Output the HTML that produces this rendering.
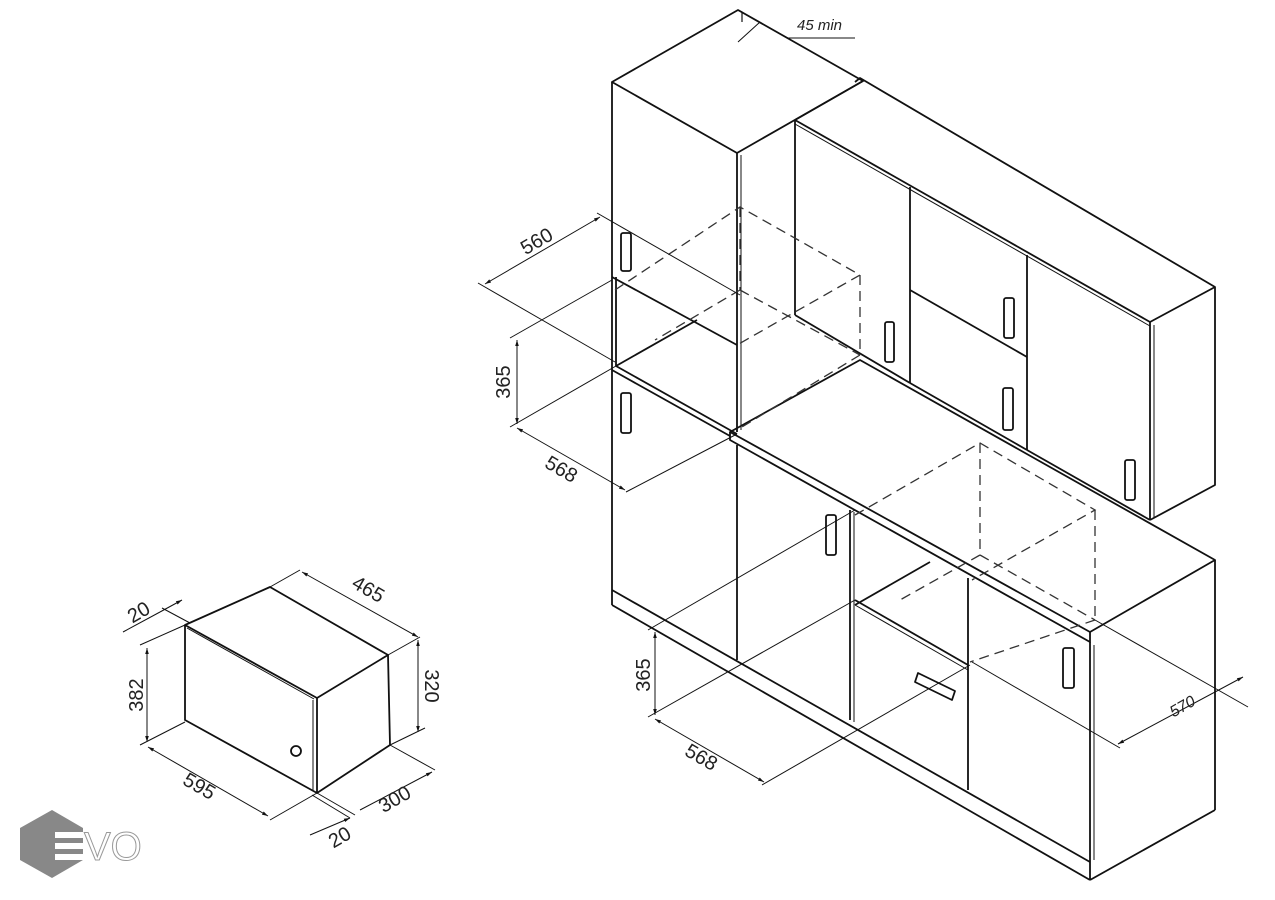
<!DOCTYPE html>
<html><head><meta charset="utf-8"><style>
html,body{margin:0;padding:0;background:#fff;}
svg{display:block}
text{font-family:"Liberation Sans",sans-serif;fill:#222}
</style></head><body>
<svg width="1275" height="900" viewBox="0 0 1275 900" xmlns="http://www.w3.org/2000/svg" style="font-size:18px">
<defs>
<marker id="a" viewBox="0 0 10 10" refX="10" refY="5" markerWidth="9" markerHeight="6" orient="auto-start-reverse"><path d="M0,2 L10,5 L0,8z" fill="#111"/></marker>
</defs>
<g stroke="#111" stroke-width="1.8" fill="none" stroke-linejoin="round">
<!-- tall cabinet -->
<polygon points="612,82 738,10 863,81 737,153"/>
<line x1="612" y1="82" x2="612" y2="590"/>
<line x1="737" y1="153" x2="737" y2="432"/>
<line x1="741" y1="155" x2="741" y2="430" stroke-width="1"/>
<line x1="612" y1="277" x2="737" y2="345"/>
<line x1="616" y1="277" x2="616" y2="366"/>
<line x1="616" y1="366" x2="737" y2="434"/>
<line x1="612" y1="370" x2="730" y2="436"/>
<line x1="616" y1="366" x2="697" y2="320"/>
<line x1="612" y1="590" x2="612" y2="605"/>
<!-- 45 min -->
<polyline points="738,10 742,12 742,22" stroke-width="1.2"/>
<line x1="760" y1="22" x2="738" y2="42" stroke-width="1"/>
<polyline points="770,28 788,38 855,38" stroke-width="1"/>
<!-- upper wall row -->
<polyline points="855,82 860,78 1215,287 1215,485 1150,520"/>
<line x1="795" y1="120" x2="1150" y2="322"/>
<line x1="795" y1="124" x2="1150" y2="326" stroke-width="1"/>
<line x1="1150" y1="322" x2="1215" y2="287"/>
<line x1="795" y1="120" x2="863" y2="81"/>
<line x1="795" y1="120" x2="795" y2="315"/>
<line x1="910" y1="187" x2="910" y2="383"/>
<line x1="1027" y1="255" x2="1027" y2="450"/>
<line x1="1150" y1="322" x2="1150" y2="520"/>
<line x1="1154" y1="325" x2="1154" y2="518" stroke-width="1"/>
<line x1="795" y1="315" x2="910" y2="383"/>
<line x1="910" y1="290" x2="1027" y2="357"/>
<line x1="910" y1="383" x2="1027" y2="450"/>
<line x1="1027" y1="450" x2="1150" y2="520"/>
<!-- countertop -->
<polygon points="730,432 860,360 1215,560 1090,632"/>
<polyline points="730,432 730,440 1090,642 1090,632"/>
<line x1="1090" y1="642" x2="1090" y2="880"/>
<line x1="1094" y1="645" x2="1094" y2="860" stroke-width="1"/>
<line x1="1215" y1="560" x2="1215" y2="810"/>
<line x1="1215" y1="810" x2="1090" y2="880"/>
<!-- base cabinets -->
<line x1="612" y1="590" x2="1090" y2="862"/>
<line x1="612" y1="605" x2="1090" y2="880"/>
<line x1="737" y1="445" x2="737" y2="660"/>
<line x1="850" y1="510" x2="850" y2="720"/>
<line x1="854" y1="512" x2="854" y2="722" stroke-width="1"/>
<line x1="968" y1="578" x2="968" y2="790"/>
<line x1="855" y1="600" x2="968" y2="665"/>
<line x1="855" y1="605" x2="968" y2="670" stroke-width="1"/>
<line x1="855" y1="605" x2="930" y2="562"/>
<!-- handles -->
<rect x="621" y="233" width="10" height="38" rx="2"/>
<rect x="621" y="393" width="10" height="40" rx="2"/>
<rect x="885" y="322" width="9" height="40" rx="2"/>
<rect x="1004" y="298" width="10" height="40" rx="2"/>
<rect x="1003" y="388" width="10" height="42" rx="2"/>
<rect x="1125" y="460" width="10" height="40" rx="2"/>
<rect x="826" y="515" width="10" height="40" rx="2"/>
<rect x="1063" y="648" width="11" height="40" rx="2"/>
<polygon points="918,673 955,691 952,700 915,682"/>
</g>
<!-- dashed boxes -->
<g stroke="#333" stroke-width="1.3" fill="none" stroke-dasharray="10,6">
<polyline points="615,290 740,207 860,275 737,345"/>
<line x1="740" y1="207" x2="740" y2="290"/>
<line x1="740" y1="290" x2="860" y2="355"/>
<line x1="860" y1="275" x2="860" y2="355"/>
<line x1="740" y1="290" x2="655" y2="340"/>
<line x1="860" y1="355" x2="737" y2="430"/>
<polyline points="855,515 980,443 1095,510 972,580"/>
<line x1="980" y1="443" x2="980" y2="555"/>
<line x1="980" y1="555" x2="1095" y2="620"/>
<line x1="1095" y1="510" x2="1095" y2="620"/>
<line x1="980" y1="555" x2="900" y2="600"/>
<line x1="1095" y1="620" x2="970" y2="662"/>
</g>
<!-- dimensions -->
<g stroke="#111" stroke-width="1" fill="none">
<line x1="478" y1="283" x2="615" y2="362"/>
<line x1="597" y1="213" x2="740" y2="295"/>
<line x1="485" y1="284" x2="600" y2="217" marker-start="url(#a)" marker-end="url(#a)"/>
<line x1="510" y1="338" x2="612" y2="280"/>
<line x1="510" y1="427" x2="616" y2="366"/>
<line x1="517" y1="340" x2="517" y2="424" marker-start="url(#a)" marker-end="url(#a)"/>
<line x1="626" y1="492" x2="737" y2="434"/>
<line x1="517" y1="428" x2="625" y2="490" marker-start="url(#a)" marker-end="url(#a)"/>
<line x1="648" y1="630" x2="855" y2="510"/>
<line x1="648" y1="717" x2="855" y2="600"/>
<line x1="655" y1="632" x2="655" y2="715" marker-start="url(#a)" marker-end="url(#a)"/>
<line x1="762" y1="785" x2="970" y2="665"/>
<line x1="655" y1="719" x2="764" y2="782" marker-start="url(#a)" marker-end="url(#a)"/>
<line x1="972" y1="662" x2="1120" y2="748"/>
<line x1="1095" y1="620" x2="1248" y2="707"/>
<line x1="1118" y1="744" x2="1243" y2="677" marker-start="url(#a)" marker-end="url(#a)"/>
</g>
<text transform="translate(540,247) rotate(-30)" text-anchor="middle" style="font-size:20px">560</text>
<text transform="translate(510,382) rotate(-90)" text-anchor="middle" style="font-size:20px">365</text>
<text transform="translate(558,475) rotate(30)" text-anchor="middle" style="font-size:20px">568</text>
<text transform="translate(650,675) rotate(-90)" text-anchor="middle" style="font-size:20px">365</text>
<text transform="translate(698,763) rotate(30)" text-anchor="middle" style="font-size:20px">568</text>
<text transform="translate(1185,711) rotate(-30)" text-anchor="middle" style="font-size:16px;font-style:italic">570</text>
<text x="797" y="30" style="font-size:15px;font-style:italic">45 min</text>
<!-- microwave -->
<g stroke="#111" stroke-width="1.8" fill="none" stroke-linejoin="round">
<polygon points="185,625 317,698 317,793 185,720"/>
<polyline points="185,625 270,587 388,655 317,698"/>
<polyline points="388,655 390,745 317,793"/>
<line x1="187" y1="628" x2="314" y2="699" stroke-width="1"/>
<line x1="313" y1="700" x2="313" y2="791" stroke-width="1"/>
<circle cx="296" cy="751" r="5"/>
</g>
<g stroke="#111" stroke-width="1" fill="none">
<line x1="140" y1="645" x2="185" y2="625"/>
<line x1="140" y1="745" x2="185" y2="722"/>
<line x1="147" y1="648" x2="147" y2="742" marker-start="url(#a)" marker-end="url(#a)"/>
<line x1="270" y1="587" x2="300" y2="570"/>
<line x1="388" y1="655" x2="420" y2="637"/>
<line x1="302" y1="572" x2="418" y2="637" marker-start="url(#a)" marker-end="url(#a)"/>
<line x1="390" y1="745" x2="425" y2="728"/>
<line x1="418" y1="640" x2="418" y2="732" marker-start="url(#a)" marker-end="url(#a)"/>
<line x1="317" y1="793" x2="270" y2="820"/>
<line x1="148" y1="747" x2="268" y2="816" marker-start="url(#a)" marker-end="url(#a)"/>
<line x1="390" y1="745" x2="435" y2="770"/>
<line x1="360" y1="810" x2="432" y2="772" marker-end="url(#a)"/>
<line x1="317" y1="793" x2="355" y2="815"/>
<line x1="312" y1="795" x2="350" y2="818"/>
<line x1="310" y1="835" x2="350" y2="818" marker-end="url(#a)"/>
<line x1="123" y1="632" x2="160" y2="612"/>
<line x1="160" y1="612" x2="182" y2="600" marker-end="url(#a)"/>
<line x1="162" y1="608" x2="190" y2="623"/>
</g>
<text transform="translate(142,618) rotate(-30)" text-anchor="middle" style="font-size:20px">20</text>
<text transform="translate(143,695) rotate(-90)" text-anchor="middle" style="font-size:20px">382</text>
<text transform="translate(365,595) rotate(30)" text-anchor="middle" style="font-size:20px">465</text>
<text transform="translate(425,686) rotate(90)" text-anchor="middle" style="font-size:20px">320</text>
<text transform="translate(196,792) rotate(30)" text-anchor="middle" style="font-size:20px">595</text>
<text transform="translate(398,805) rotate(-30)" text-anchor="middle" style="font-size:20px">300</text>
<text transform="translate(343,843) rotate(-30)" text-anchor="middle" style="font-size:20px">20</text>
<!-- logo -->
<polygon points="52,810 83,828 83,860 52,878 20,860 20,828" fill="#888"/>
<g fill="#fff"><rect x="55" y="832" width="28" height="6"/><rect x="55" y="843" width="28" height="6"/><rect x="55" y="854" width="28" height="6"/></g>
<text x="84" y="860" style="font-size:40px;fill:#fff;stroke:#999;stroke-width:1">VO</text>
</svg>
</body></html>
